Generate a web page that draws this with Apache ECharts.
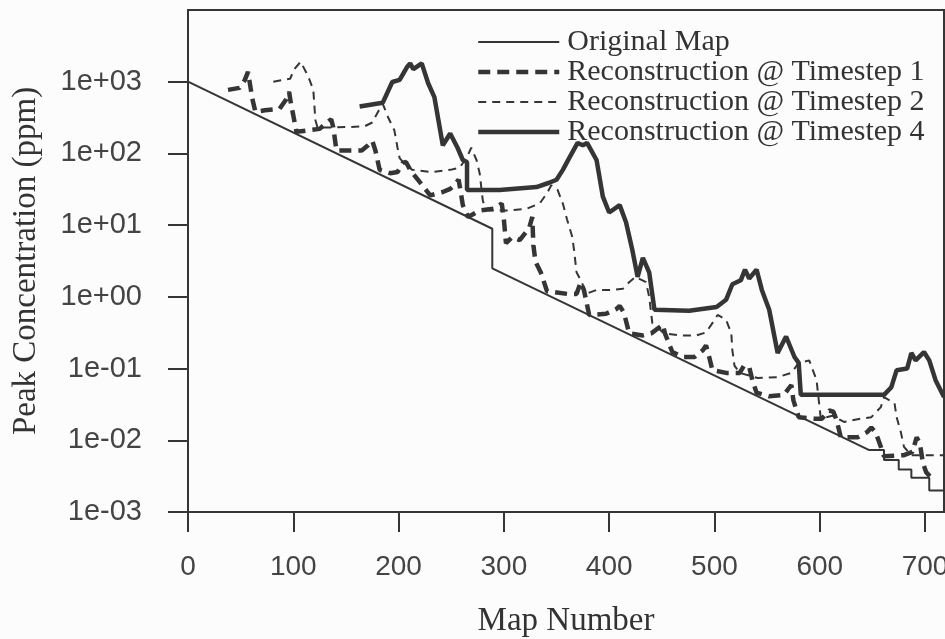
<!DOCTYPE html>
<html>
<head>
<meta charset="utf-8">
<script src="https://cdn.jsdelivr.net/npm/echarts@6/dist/echarts.min.js"></script>
<style>
html,body{margin:0;padding:0;background:#fcfcfc;}
#chart{width:945px;height:639px;}
</style>
</head>
<body>
<div id="chart"></div>
<script>
// ---- Data (map number, peak concentration in ppm) ----
const origX = [0, 289, 289, 647, 661, 661, 675, 675, 687, 687, 704, 704, 718];
const origY = [1000, 8.9, 2.5, 0.0073, 0.0073, 0.0053, 0.0053, 0.0039, 0.0039, 0.0030, 0.0030, 0.0020, 0.0020];

const t1X = [38,49,54,57,59,61,64,73,87,93,96,98,100,103,114,125,132,136,138,141,154,165,171,175,178,182,192,199,204,207,211,220,230,242,249,253,257,259,261,266,277,291,298,300,302,308,315,324,327,328,330,335,341,360,369,373,376,378,381,397,407,410,414,419,432,440,448,451,453,460,470,481,489,492,495,498,511,524,528,533,536,540,552,566,571,573,575,580,595,602,609,613,616,620,636,645,649,653,658,661,680,688,692,695,698,701,706];
const t1Y = [770,820,1060,1370,900,590,380,400,420,560,720,470,340,200,210,220,270,300,230,110,110,110,130,150,110,59,53,55,74,76,59,40,26,29,32,36,43,29,19,13,16,17,20,12,5.6,6.8,6.2,9.1,13,5.3,3.1,2.2,1.2,1.1,1.1,1.6,1.25,0.91,0.56,0.58,0.68,0.75,0.60,0.31,0.29,0.31,0.38,0.41,0.31,0.17,0.145,0.145,0.18,0.21,0.145,0.095,0.087,0.087,0.11,0.105,0.069,0.046,0.041,0.043,0.054,0.059,0.036,0.021,0.020,0.020,0.026,0.025,0.019,0.011,0.011,0.013,0.015,0.013,0.0081,0.0060,0.0062,0.0069,0.011,0.0092,0.0048,0.0036,0.0030];

const t2X = [81,97,101,107,114,119,121,123,135,154,168,175,180,185,190,196,199,201,206,213,232,249,258,263,265,269,274,277,280,282,286,305,322,334,341,345,351,356,360,365,367,369,374,378,388,403,413,419,425,435,438,441,448,452,467,483,492,498,503,511,516,517,519,524,541,560,573,580,590,597,598,601,612,623,639,649,658,661,671,673,677,680,687,718];
const t2Y = [1000,1100,1500,1900,1200,770,290,230,230,234,240,270,370,490,320,210,120,86,71,59,55,59,63,81,89,120,81,53,22,18,16,16,17,20,28,36,31,20,12,6.8,4.1,2.2,1.6,1.1,1.25,1.25,1.3,1.6,1.9,1.6,1.0,0.43,0.35,0.31,0.29,0.29,0.32,0.43,0.56,0.48,0.31,0.18,0.11,0.087,0.074,0.076,0.087,0.12,0.13,0.069,0.050,0.020,0.022,0.018,0.020,0.021,0.029,0.040,0.033,0.021,0.013,0.0081,0.0062,0.0062];

const t4X = [163,185,194,201,208,211,214,222,228,234,242,249,256,261,265,265,296,331,343,350,356,362,370,375,379,388,394,400,410,416,422,427,432,438,443,476,502,511,517,525,529,533,540,545,552,560,568,576,580,582,661,668,673,683,687,691,699,704,710,718];
const t4Y = [450,510,990,1060,1600,1800,1500,1800,960,610,130,190,120,81,76,31,31,34,39,43,59,86,140,130,140,81,25,15,19,11,4.5,1.9,3.5,2.2,0.66,0.64,0.72,0.91,1.5,1.7,2.4,1.8,2.4,1.25,0.66,0.165,0.28,0.145,0.12,0.043,0.043,0.055,0.095,0.10,0.165,0.13,0.17,0.13,0.069,0.040];

const seriesNames = ['Original Map', 'Reconstruction @ Timestep 1', 'Reconstruction @ Timestep 2', 'Reconstruction @ Timestep 4'];
const xTicks = [0, 100, 200, 300, 400, 500, 600, 700];
const yTicks = [0.001, 0.01, 0.1, 1, 10, 100, 1000];

const ink = '#353535';
const styles = [
  { width: 2, type: 'solid' },
  { width: 4.5, type: [12, 7] },
  { width: 2, type: [8, 6] },
  { width: 4.5, type: 'solid' }
];

function pairs(xs, ys) { return xs.map((x, i) => [x, ys[i]]); }
function expLabel(v) {
  const e = Math.round(Math.log10(v));
  if (e > 3) return '';
  const s = e < 0 ? '-' : '+';
  const a = Math.abs(e);
  return '1e' + s + (a < 10 ? '0' + a : a);
}

const seriesData = [pairs(origX, origY), pairs(t1X, t1Y), pairs(t2X, t2Y), pairs(t4X, t4Y)];

const chart = echarts.init(document.getElementById('chart'), null, { renderer: 'canvas' });
chart.setOption({
  animation: false,
  backgroundColor: '#fcfcfc',
  grid: { left: 188, right: 1, top: 10, bottom: 127, containLabel: false, outerBoundsMode: 'none',
          show: true, borderColor: ink, borderWidth: 2, backgroundColor: 'transparent' },
  legend: {
    orient: 'vertical', left: 476, top: 27, padding: 0, itemGap: 0,
    itemWidth: 81, itemHeight: 12,
    data: seriesNames.map((n, i) => ({
      name: n,
      itemStyle: { opacity: 0 },
      lineStyle: { color: ink, width: styles[i].width, type: styles[i].type }
    })),
    textStyle: { fontFamily: 'Liberation Serif', fontSize: 30, color: '#333', lineHeight: 27, padding: [0, 0, 0, 3] }
  },
  xAxis: {
    type: 'value', min: 0, max: 718, interval: 100,
    name: 'Map Number', nameLocation: 'middle', nameGap: 93,
    nameTextStyle: { fontFamily: 'Liberation Serif', fontSize: 33, color: '#333' },
    axisLine: { lineStyle: { color: ink, width: 2 } },
    axisTick: { length: 20, lineStyle: { color: ink, width: 2 }, customValues: xTicks },
    axisLabel: { customValues: xTicks, margin: 41, fontFamily: 'Liberation Sans', fontSize: 28, color: '#444' },
    splitLine: { show: false }
  },
  yAxis: {
    type: 'log', logBase: 10, min: 0.001, max: 10000,
    name: 'Peak Concentration (ppm)', nameLocation: 'middle', nameGap: 145,
    nameTextStyle: { fontFamily: 'Liberation Serif', fontSize: 33, color: '#333' },
    axisLine: { lineStyle: { color: ink, width: 2 } },
    axisTick: { length: 20, lineStyle: { color: ink, width: 2 }, customValues: yTicks },
    axisLabel: { customValues: yTicks, margin: 46, fontFamily: 'Liberation Sans', fontSize: 29, color: '#444', formatter: expLabel },
    splitLine: { show: false }
  },
  series: seriesNames.map((n, i) => ({
    name: n, type: 'line', data: seriesData[i], symbol: 'none', showSymbol: false,
    lineStyle: { color: ink, width: styles[i].width, type: styles[i].type },
    itemStyle: { color: ink }, z: 2 + i
  }))
});
</script>
</body>
</html>
